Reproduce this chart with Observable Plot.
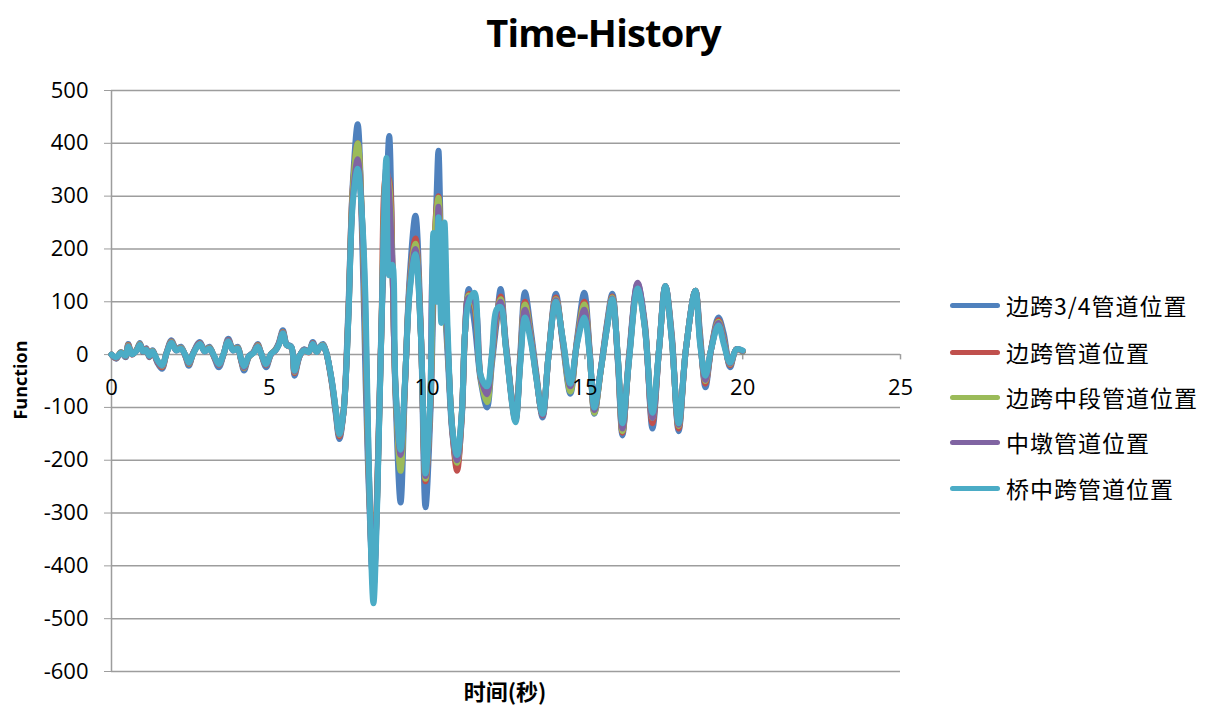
<!DOCTYPE html>
<html><head><meta charset="utf-8">
<script src="https://cdn.jsdelivr.net/npm/d3@7"></script>
<script src="https://cdn.jsdelivr.net/npm/@observablehq/plot@0.6"></script>
<style>
body{margin:0;background:#fff;}
#wrap{position:relative;width:1207px;height:707px;overflow:hidden;}
#wrap svg{position:absolute;left:0;top:0;}
#title{position:absolute;left:0;width:1207px;top:6px;text-align:center;font:700 38px "Open Sans",sans-serif;letter-spacing:-0.8px;color:#000;}
#ylab{position:absolute;left:20px;top:380px;transform:translate(-50%,-50%) rotate(-90deg);font:700 18px "Open Sans",sans-serif;white-space:nowrap;}
#xlab{position:absolute;left:505px;top:690px;transform:translate(-50%,-50%);font:700 22px "Noto Sans CJK SC",sans-serif;white-space:nowrap;}
.leg{position:absolute;left:950px;height:0;}
.leg .sw{position:absolute;left:0;top:-2.5px;width:50px;height:5px;border-radius:3px;}
.leg .tx{position:absolute;left:56px;top:-17px;font:400 23px "Noto Sans CJK SC",sans-serif;line-height:34px;white-space:nowrap;letter-spacing:1px;}
svg [aria-label="y-axis tick"]{stroke:#9d9d9d;}
svg [aria-label="y-axis tick label"]{font-size:22px;}
</style></head><body><div id="wrap"></div>
<script>
const seriesNames = ["边跨3/4管道位置","边跨管道位置","边跨中段管道位置","中墩管道位置","桥中跨管道位置"];
const seriesColors = ["#4F81BD","#C0504D","#9BBB59","#8064A2","#4BACC6"];
const yTicks = [-600,-500,-400,-300,-200,-100,0,100,200,300,400,500];
const xTicks = [0,5,10,15,20,25];
const times = [
 0,0.15,0.3,0.45,0.53,0.65,0.8,0.9,1.0,1.1,
 1.2,1.3,1.45,1.6,1.75,1.9,2.05,2.2,2.35,2.45,
 2.6,2.8,2.95,3.1,3.25,3.4,3.55,3.7,3.85,4.0,
 4.1,4.2,4.35,4.5,4.63,4.75,4.9,5.05,5.2,5.3,
 5.43,5.55,5.7,5.8,5.95,6.1,6.25,6.38,6.5,6.6,
 6.7,6.8,
 6.97,7.1,7.22,7.35,7.5,7.65,7.8,7.95,8.05,8.15,
 8.3,8.42,8.55,8.71,8.8,8.9,9.0,9.16,9.3,9.45,
 9.63,9.8,9.95,10.1,10.2,10.3,10.36,10.45,10.55,10.65,
 10.8,10.95,11.1,11.2,11.32,11.5,11.7,11.9,12.05,12.2,
 12.33,12.5,12.8,12.95,13.1,13.3,13.45,13.66,13.85,14.08,
 14.3,14.54,14.75,14.98,15.15,15.3,15.5,15.7,15.87,16.05,
 16.19,16.4,16.67,16.9,17.14,17.35,17.55,17.75,17.97,18.2,
 18.5,18.65,18.82,19.0,19.23,19.4,19.6,19.8,20.0];
const s1 = [
 0,-8,5,-5,20,0,10,22,5,12,
 -5,8,-15,-27,5,27,10,15,-5,-21,
 5,24,8,15,-5,-24,0,30,10,15,
 -10,-30,-5,5,20,0,-24,0,10,22,
 46,20,15,-40,-5,10,5,24,5,15,
 20,5,
 -50,-110,-160,-110,80,330,436,200,-50,-250,
 -440,-250,50,300,414,180,-80,-280,-60,150,
 263,50,-289,-120,100,300,386,200,100,0,
 -150,-210,-120,40,124,60,-50,-100,-20,60,
 124,20,-120,0,118,40,-30,-119,0,115,
 20,-74,30,117,10,-112,-30,60,115,-20,
 -153,0,134,60,-140,10,130,40,-145,10,
 121,40,-62,10,70,40,-24,10,5];
const s2 = [
 0,-7,4,-4,18,0,9,20,5,11,
 -4,7,-13,-24,4,25,9,13,-4,-18,
 4,22,7,13,-4,-20,0,27,9,13,
 -9,-26,-4,4,18,0,-20,0,9,20,
 43,18,13,-35,-4,9,4,22,5,14,
 18,5,
 -48,-105,-155,-110,70,320,400,230,20,-230,
 -430,-260,45,340,330,170,-70,-213,-55,135,
 220,45,-240,-100,150,280,300,180,120,20,
 -145,-220,-115,40,115,90,-45,-80,-10,70,
 110,15,-125,-10,100,30,-35,-115,0,108,
 25,-65,25,100,5,-108,-30,55,110,-15,
 -148,-5,130,55,-130,10,130,35,-140,10,
 121,30,-55,10,65,30,-20,10,6];
const s3 = [
 0,-6,4,-3,17,1,9,20,6,10,
 -3,7,-12,-22,4,24,9,13,-3,-17,
 4,21,7,13,-3,-19,1,26,9,13,
 -8,-25,-4,4,17,1,-19,1,9,19,
 42,18,14,-33,-4,9,5,21,5,14,
 18,5,
 -47,-103,-152,-110,65,315,400,240,30,-220,
 -420,-265,42,345,320,165,-65,-220,-55,130,
 210,42,-235,-95,160,270,297,170,110,15,
 -140,-205,-112,40,112,95,-45,-90,-10,75,
 105,12,-118,-12,95,28,-38,-113,0,105,
 27,-70,24,95,3,-110,-32,52,108,-12,
 -145,-8,128,52,-120,10,128,32,-135,10,
 121,28,-50,10,62,28,-18,10,6];
const s4 = [
 0,-6,3,-3,16,1,8,19,6,10,
 -3,6,-12,-21,4,23,8,12,-3,-16,
 4,21,6,12,-3,-19,1,26,8,12,
 -8,-24,-3,4,16,1,-19,1,8,19,
 41,18,14,-32,-4,9,5,21,5,14,
 17,5,
 -46,-102,-151,-110,62,300,370,245,60,-210,
 -440,-270,41,355,300,165,-62,-190,-52,125,
 200,41,-230,-90,180,200,280,120,150,25,
 -142,-200,-111,40,108,100,-42,-75,-5,78,
 100,12,-122,-15,85,25,-39,-114,0,103,
 28,-60,22,85,2,-105,-30,51,106,-12,
 -140,-8,136,51,-120,10,129,31,-133,10,
 121,25,-48,10,60,25,-17,10,7];
const s5 = [
 0,-5,3,-2,15,1,8,18,6,9,
 -2,6,-10,-20,3,22,8,11,-2,-15,
 3,20,6,11,-2,-18,1,25,8,11,
 -7,-22,-3,3,15,1,-18,1,8,18,
 40,18,14,-30,-3,8,5,20,5,14,
 17,5,
 -45,-100,-150,-110,60,290,352,250,100,-200,
 -471,-280,40,372,150,170,-60,-180,-50,120,
 190,40,-225,-80,230,100,260,60,250,50,
 -140,-190,-110,40,100,117,-40,-60,0,85,
 90,10,-128,-20,70,20,-40,-112,0,100,
 30,-55,20,70,0,-100,-30,50,105,-10,
 -130,-10,125,50,-110,10,130,30,-130,10,
 121,20,-40,10,55,20,-15,10,8];

const allSeries = [s1,s2,s3,s4,s5];
const rows = [];
allSeries.forEach((vals,i) => vals.forEach((v,j) => rows.push({t: times[j], v, s: seriesNames[i]})));

const chart = Plot.plot({
  width: 1207, height: 707,
  marginLeft: 111, marginRight: 307, marginTop: 90, marginBottom: 36,
  style: {fontFamily: '"Open Sans", sans-serif', fontSize: "22px", color: "#000", background: "transparent"},
  x: {domain: [0, 25], axis: null},
  y: {domain: [-600, 500], ticks: yTicks, tickSize: 7, tickPadding: 16, tickFormat: d => String(d), label: null},
  color: {domain: seriesNames, range: seriesColors},
  marks: [
    Plot.ruleY(yTicks, {stroke: "#9d9d9d", strokeWidth: 1.5}),
    Plot.ruleX([0], {stroke: "#9d9d9d", strokeWidth: 1.5}),
    Plot.ruleX(xTicks, {x: d => d, y1: 0, y2: -10, stroke: "#9d9d9d", strokeWidth: 1.5}),
    Plot.line(rows, {x: "t", y: "v", z: "s", stroke: "s", strokeWidth: 6, curve: "catmull-rom", strokeLinejoin: "round", strokeLinecap: "round"}),
    Plot.text(xTicks, {x: d => d, y: 0, dy: 33, text: d => String(d), fontSize: 22, fill: "#000"})
  ]
});
const wrap = document.getElementById("wrap");
wrap.appendChild(chart);
const add = (html) => { wrap.insertAdjacentHTML("beforeend", html); };
add('<div id="title">Time-History</div>');
add('<div id="ylab">Function</div>');
add('<div id="xlab">时间(秒)</div>');
const legY = [305, 352, 397, 442, 488];
seriesNames.forEach((n, i) => {
  add(`<div class="leg" style="top:${legY[i]}px"><div class="sw" style="background:${seriesColors[i]}"></div><div class="tx">${n}</div></div>`);
});
</script></body></html>
